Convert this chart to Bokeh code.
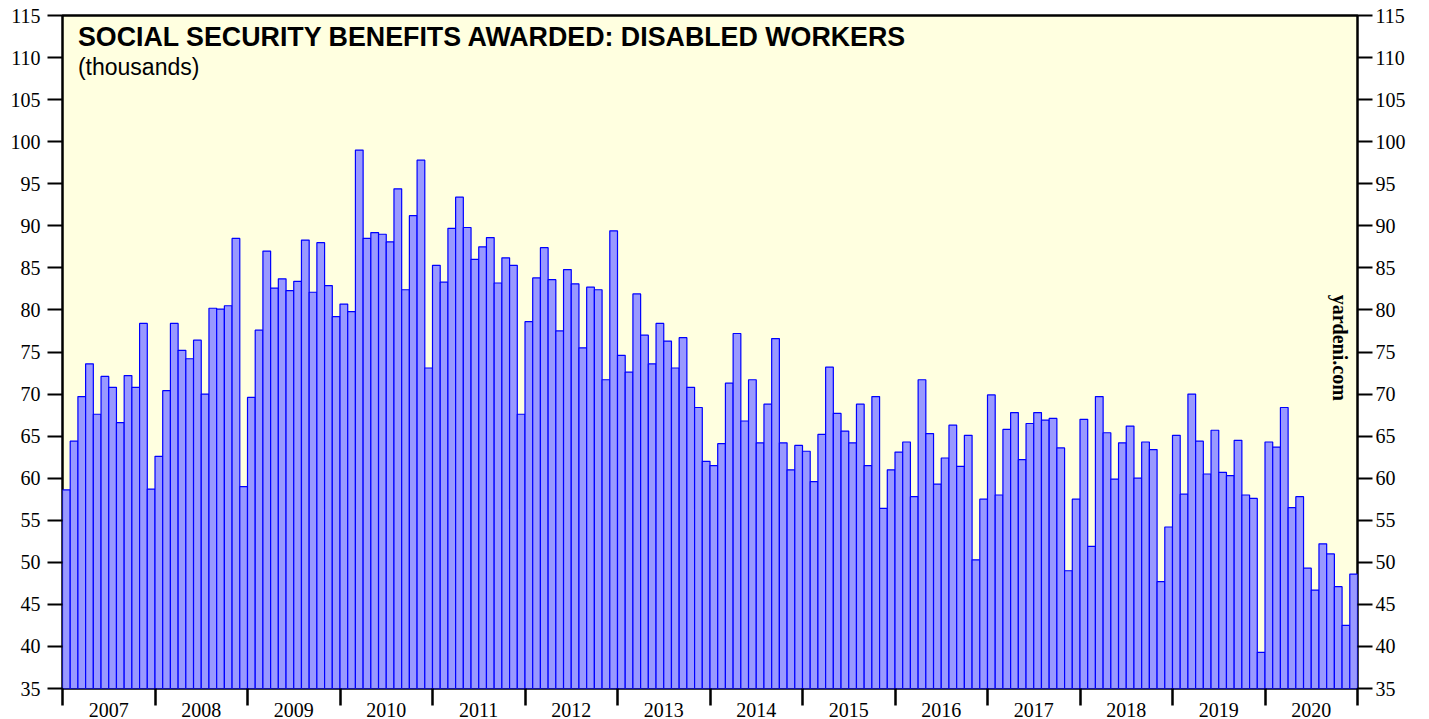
from bokeh.plotting import figure
from bokeh.models import Range1d, FixedTicker, LinearAxis, Label, ColumnDataSource
from bokeh.embed import file_html
from bokeh.resources import INLINE

years = [str(y) for y in range(2007, 2021)]

v2007 = [58.6, 64.4, 69.7, 73.6, 67.6, 72.1, 70.8, 66.6, 72.2, 70.8, 78.4, 58.7]
v2008 = [62.6, 70.4, 78.4, 75.2, 74.2, 76.4, 70.0, 80.2, 80.1, 80.5, 88.5, 59.0]
v2009 = [69.6, 77.6, 87.0, 82.6, 83.7, 82.3, 83.4, 88.3, 82.1, 88.0, 82.9, 79.2]
v2010 = [80.7, 79.8, 99.0, 88.5, 89.2, 89.0, 88.1, 94.4, 82.4, 91.2, 97.8, 73.1]
v2011 = [85.3, 83.3, 89.7, 93.4, 89.8, 86.0, 87.5, 88.6, 83.2, 86.2, 85.3, 67.6]
v2012 = [78.6, 83.8, 87.4, 83.6, 77.5, 84.8, 83.1, 75.5, 82.7, 82.4, 71.7, 89.4]
v2013 = [74.6, 72.6, 81.9, 77.0, 73.6, 78.4, 76.3, 73.1, 76.7, 70.8, 68.4, 62.0]
v2014 = [61.5, 64.1, 71.3, 77.2, 66.8, 71.7, 64.2, 68.8, 76.6, 64.2, 61.0, 63.9]
v2015 = [63.2, 59.6, 65.2, 73.2, 67.7, 65.6, 64.2, 68.8, 61.5, 69.7, 56.4, 61.0]
v2016 = [63.1, 64.3, 57.8, 71.7, 65.3, 59.3, 62.4, 66.3, 61.4, 65.1, 50.3, 57.5]
v2017 = [69.9, 58.0, 65.8, 67.8, 62.2, 66.5, 67.8, 66.9, 67.1, 63.6, 49.0, 57.5]
v2018 = [67.0, 51.9, 69.7, 65.4, 59.9, 64.2, 66.2, 60.0, 64.3, 63.4, 47.7, 54.2]
v2019 = [65.1, 58.1, 70.0, 64.4, 60.5, 65.7, 60.7, 60.3, 64.5, 58.0, 57.6, 39.3]
v2020 = [64.3, 63.7, 68.4, 56.5, 57.8, 49.3, 46.7, 52.2, 51.0, 47.1, 42.5, 48.6]

values = (v2007 + v2008 + v2009 + v2010 + v2011 + v2012 + v2013 +
          v2014 + v2015 + v2016 + v2017 + v2018 + v2019 + v2020)
month_index = list(range(len(values)))

y_ticks = list(range(35, 116, 5))

source = ColumnDataSource(data=dict(x=month_index, top=values))

n = len(values)
p = figure(frame_width=1295, frame_height=673, output_backend="svg", toolbar_location=None,
           x_range=Range1d(-0.5, n - 0.5), y_range=Range1d(35, 115),
           min_border_left=62, min_border_right=64, min_border_top=15,
           min_border_bottom=0, x_axis_location=None, y_axis_location=None)

p.background_fill_color = "#FFFFE0"
p.border_fill_color = "white"
p.outline_line_color = "black"
p.outline_line_width = 2.5
p.xgrid.visible = False
p.ygrid.visible = False

p.vbar(x="x", top="top", bottom=35, width=1.0, source=source,
       fill_color="#9999FF", line_color="#0000FF", line_width=1.2)

def style_y(ax, standoff):
    ax.ticker = FixedTicker(ticks=y_ticks)
    ax.axis_line_color = None
    ax.major_tick_out = 15
    ax.major_tick_in = 0
    ax.minor_tick_out = 0
    ax.minor_tick_in = 0
    ax.major_tick_line_color = "black"
    ax.major_tick_line_width = 2
    ax.major_label_text_font = "Liberation Serif"
    ax.major_label_text_font_size = "20px"
    ax.major_label_text_color = "black"
    ax.major_label_standoff = standoff

left = LinearAxis()
style_y(left, 7)
p.add_layout(left, "left")
right = LinearAxis()
style_y(right, 3)
p.add_layout(right, "right")

year_mid = [12 * i + 5.5 for i in range(len(years))]
year_bounds = [12 * i - 0.5 for i in range(len(years) + 1)]
bottom = LinearAxis()
bottom.ticker = FixedTicker(ticks=year_mid, minor_ticks=year_bounds)
bottom.major_label_overrides = {m: y for m, y in zip(year_mid, years)}
bottom.axis_line_color = None
bottom.major_tick_out = 0
bottom.major_tick_in = 0
bottom.minor_tick_out = 17
bottom.minor_tick_in = 0
bottom.minor_tick_line_color = "black"
bottom.minor_tick_line_width = 2.5
bottom.major_label_text_font = "Liberation Serif"
bottom.major_label_text_font_size = "20px"
bottom.major_label_text_color = "black"
bottom.major_label_standoff = -3
p.add_layout(bottom, "below")

p.add_layout(Label(x=1.5, y=112.5, text="SOCIAL SECURITY BENEFITS AWARDED: DISABLED WORKERS",
                   text_font="Liberation Sans", text_font_style="bold",
                   text_font_size="26.8px", text_baseline="alphabetic", text_color="black"))
p.add_layout(Label(x=1.5, y=108.85, text="(thousands)",
                   text_font="Liberation Sans", text_font_size="23px",
                   text_baseline="alphabetic", text_color="black"))
p.add_layout(Label(x=165.2, y=75.5, text="yardeni.com", angle=-1.5708,
                   text_font="Liberation Serif", text_font_style="bold",
                   text_font_size="20px", text_align="center",
                   text_baseline="middle", text_color="black"))

open("out.html", "w").write(file_html(p, INLINE))
